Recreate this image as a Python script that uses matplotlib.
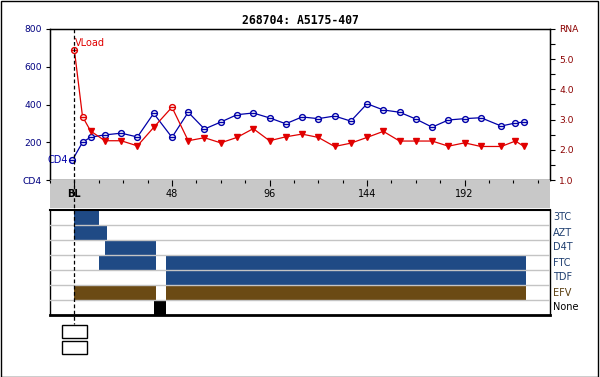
import matplotlib
matplotlib.use("Agg")
import matplotlib.pyplot as plt
from matplotlib.patches import Rectangle
from matplotlib.lines import Line2D
from matplotlib.ticker import MultipleLocator

# ---------------- data ----------------
title = "268704: A5175-407"

cd4_weeks = [-1, 4, 8, 15, 23, 31, 39, 48, 56, 64, 72, 80, 88, 96, 104,
             112, 120, 128, 136, 144, 152, 160, 168, 176, 184, 192, 200, 210, 217, 221]
cd4_values = [105, 200, 227, 239, 248, 228, 353, 226, 359, 270, 307, 346, 355, 329, 298,
              334, 325, 339, 312, 404, 371, 359, 323, 280, 318, 325, 330, 286, 302, 307]

rna_weeks = [0, 4, 8, 15, 23, 31, 39, 48, 56, 64, 72, 80, 88, 96, 104,
             112, 120, 128, 136, 144, 152, 160, 168, 176, 184, 192, 200, 210, 217, 221]
rna_values = [5.30, 3.10, 2.62, 2.30, 2.30, 2.13, 2.74, 3.41, 2.30, 2.40, 2.23, 2.41, 2.70, 2.30, 2.43,
              2.52, 2.41, 2.11, 2.22, 2.41, 2.61, 2.29, 2.29, 2.29, 2.12, 2.23, 2.11, 2.11, 2.29, 2.12]
rna_detected = [True, True, False, False, False, False, False, True, False, False, False, False,
                False, False, False, False, False, False, False, False, False, False, False, False,
                False, False, False, False, False, False]

cd4_ticks = [0, 200, 400, 600, 800]
cd4_ticklabels = ["CD4", "200", "400", "600", "800"]
rna_ticks = [1, 2, 3, 4, 5, 6]
rna_ticklabels = ["1.0", "2.0", "3.0", "4.0", "5.0", "RNA"]
week_ticks = [0, 48, 96, 144, 192]
week_ticklabels = ["BL", "48", "96", "144", "192"]

drugs = ["3TC", "AZT", "D4T", "FTC", "TDF", "EFV", "None"]
drug_periods = {
    "3TC": [(0, 12)],
    "AZT": [(0, 16)],
    "D4T": [(15, 40)],
    "FTC": [(12, 40), (45, 222)],
    "TDF": [(45, 222)],
    "EFV": [(0, 40), (45, 222)],
    "None": [(39, 45)],
}

# ---------------- styles ----------------
BLUE = "#0000A8"
RED = "#E00000"
DARKRED = "#8B0000"
NAVY = "#000080"
BARBLUE = "#1F4A85"
BROWN = "#6B4A14"
drug_colors = {"3TC": BARBLUE, "AZT": BARBLUE, "D4T": BARBLUE, "FTC": BARBLUE,
               "TDF": BARBLUE, "EFV": BROWN, "None": "black"}
label_colors = {"3TC": "#1F3F70", "AZT": "#1F3F70", "D4T": "#1F3F70", "FTC": "#1F3F70",
                "TDF": "#1F3F70", "EFV": "#5A3E10", "None": "black"}
XMIN, XMAX = -12, 234
FS = 6.6

W, H = 600, 377
fig = plt.figure(figsize=(W / 100, H / 100), dpi=100)
fig.patch.set_facecolor("white")


def rect(x0, y0, x1, y1):
    return [x0 / W, 1 - y1 / H, (x1 - x0) / W, (y1 - y0) / H]


# ---------------- top chart ----------------
ax = fig.add_axes(rect(50, 29, 550, 180))
ax.set_xlim(XMIN, XMAX)
ax.set_ylim(0, 800)
ax.set_xticks([])
ax.set_yticks(cd4_ticks)
ax.set_yticklabels(cd4_ticklabels, color=NAVY, fontsize=FS)
ax.tick_params(axis="y", length=3, pad=3, width=0.8)
for s in ax.spines.values():
    s.set_linewidth(1)

ax2 = ax.twinx()
ax2.set_ylim(1, 6)
ax2.set_yticks(rna_ticks)
ax2.set_yticklabels(rna_ticklabels, color=DARKRED, fontsize=FS)
ax2.yaxis.set_minor_locator(MultipleLocator(0.5))
ax2.tick_params(axis="y", which="both", length=3.5, pad=3, width=0.8)
ax2.set_xlim(XMIN, XMAX)

# CD4 line
ax.plot(cd4_weeks, cd4_values, color=BLUE, lw=0.9, zorder=3)
ax.plot(cd4_weeks, cd4_values, ls="none", marker="o", ms=4.2, mfc="white",
        mec=BLUE, mew=1.0, zorder=4)
ax.plot(cd4_weeks, cd4_values, ls="none", marker="_", ms=4.2, mec=BLUE, mew=1.0, zorder=5)
ax.annotate("CD4", (cd4_weeks[0], cd4_values[0]), xytext=(-3, 0), textcoords="offset points",
            ha="right", va="center", color=BLUE, fontsize=7, annotation_clip=False)

# RNA line
ax2.plot(rna_weeks, rna_values, color=RED, lw=0.9, zorder=3)
det_w = [w for w, d in zip(rna_weeks, rna_detected) if d]
det_v = [v for v, d in zip(rna_values, rna_detected) if d]
und_w = [w for w, d in zip(rna_weeks, rna_detected) if not d]
und_v = [v for v, d in zip(rna_values, rna_detected) if not d]
ax2.plot(det_w, det_v, ls="none", marker="o", ms=4.2, mfc="white", mec=RED, mew=1.0, zorder=4)
ax2.plot(det_w, det_v, ls="none", marker="_", ms=4.2, mec=RED, mew=1.0, zorder=5)
ax2.plot(und_w, und_v, ls="none", marker="v", ms=4.6, mfc=RED, mec=RED, zorder=4)
ax2.annotate("VLoad", (rna_weeks[0], rna_values[0]), xytext=(0.5, 5), textcoords="offset points",
             ha="left", va="center", color=RED, fontsize=7)

# ---------------- week band ----------------
band = fig.add_axes(rect(50, 180, 550, 207.5))
band.set_facecolor("#C8C8C8")
band.set_xlim(XMIN, XMAX)
band.set_ylim(0, 1)
for s in band.spines.values():
    s.set_visible(False)
band.set_yticks([])
band.set_xticks(week_ticks)
band.set_xticklabels([])
band.xaxis.set_minor_locator(MultipleLocator(12))
band.tick_params(axis="x", which="major", top=True, bottom=False, direction="in",
                 length=4, width=0.8)
band.tick_params(axis="x", which="minor", top=True, bottom=False, direction="in",
                 length=2.2, width=0.8)
for w, lab in zip(week_ticks, week_ticklabels):
    band.text(w, 0.5, lab, ha="center", va="center", fontsize=7,
              fontweight="bold" if lab == "BL" else "normal", color="black")

# ---------------- drug chart ----------------
axb = fig.add_axes(rect(50, 210, 550, 315))
axb.set_xlim(XMIN, XMAX)
axb.set_ylim(len(drugs), 0)
axb.set_xticks([])
axb.set_yticks([])
for i, d in enumerate(drugs):
    for (s, e) in drug_periods[d]:
        axb.barh(i + 0.5, e - s, left=s, height=1.0, color=drug_colors[d], lw=0, zorder=2)
    axb.text(1.006, 1 - (i + 0.5) / len(drugs), d, transform=axb.transAxes, ha="left",
             va="center", fontsize=7, color=label_colors[d])
for i in range(1, len(drugs)):
    axb.axhline(i, color="#C4C4C4", lw=1, zorder=3)
axb.spines["top"].set_linewidth(1.5)
axb.spines["bottom"].set_linewidth(2)
axb.spines["left"].set_linewidth(1)
axb.spines["right"].set_linewidth(1)

# ---------------- BL dashed line and boxes ----------------
fig.canvas.draw()
inv = fig.transFigure.inverted()
x_bl_px = ax.transData.transform((0, 0))[0]
x_bl = inv.transform((x_bl_px, 0))[0]
y_top = inv.transform(ax.transAxes.transform((0, 1)))[1]
fig.add_artist(Line2D([x_bl, x_bl], [y_top, 1 - 324 / H], transform=fig.transFigure,
                      color="black", lw=0.9, ls=(0, (3, 2)), zorder=10))
half = (ax.transData.transform((6, 0))[0] - x_bl_px) / W
for (y0, y1) in [(324.5, 337.5), (340.5, 353.5)]:
    fig.add_artist(Rectangle((x_bl - half, 1 - y1 / H), 2 * half, (y1 - y0) / H,
                             transform=fig.transFigure, fill=False, ec="black", lw=1))

# title
fig.text(0.5, 1 - 20 / H, title, ha="center", va="center", fontsize=8.3,
         family="DejaVu Sans Mono", fontweight="bold")

# outer frame
fig.add_artist(Rectangle((0.5 / W, 0.5 / H), 597.5 / W, 376 / H, transform=fig.transFigure,
                         fill=False, ec="black", lw=1))

fig.savefig("out.png", dpi=100)
